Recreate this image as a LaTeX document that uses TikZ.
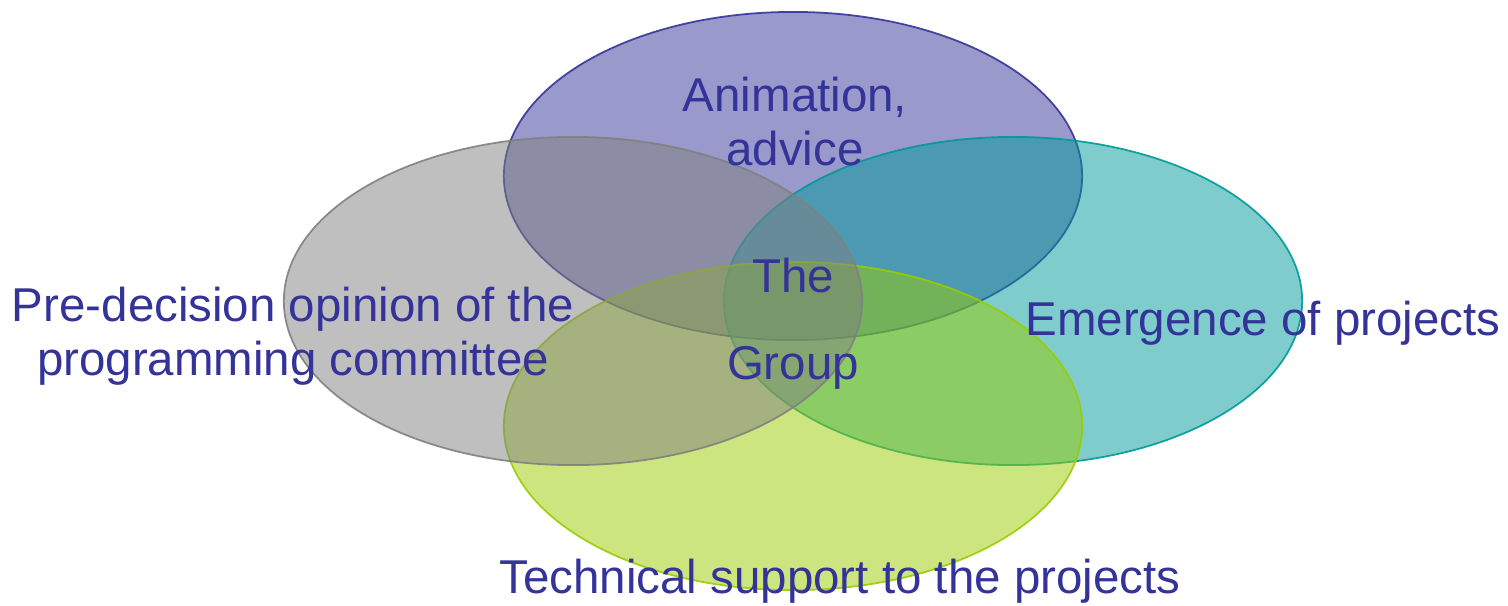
\documentclass[tikz,border=0pt]{standalone}
\usepackage{fontspec}
\setmainfont{Liberation Sans}
\usepackage{xcolor}
\usepackage{tikz}
\usetikzlibrary{
  positioning,
  backgrounds
}
\definecolor{grptext}{HTML}{333399}
\definecolor{clanim}{HTML}{333399}
\definecolor{clprog}{HTML}{808080}
\definecolor{clemer}{HTML}{009999}
\definecolor{cltech}{HTML}{99CC00}

\begin{document}
\begin{tikzpicture}[
  x=0.01cm, y=-0.01cm,
  blob/.style={draw=#1, fill=#1, fill opacity=0.5, draw opacity=0.9,
               line width=0.5pt},
  lbl/.style={font=\fontsize{13.5}{15.6}\selectfont, text=grptext,
              align=center, inner sep=0pt},
]
  \useasboundingbox (0,0) rectangle (1508,605);

  % Circles of the Venn
  \path[blob=clanim] (793,176) ellipse [x radius=2.89cm, y radius=1.64cm];
  \path[blob=clemer] (1013,301) ellipse [x radius=2.89cm, y radius=1.64cm];
  \path[blob=cltech] (793,426) ellipse [x radius=2.89cm, y radius=1.64cm];
  \path[blob=clprog] (573,301) ellipse [x radius=2.89cm, y radius=1.64cm];

  % Labels
  \node[lbl, anchor=north] (anim) at (795,76) {Animation,\\advice};
  \node[lbl, anchor=north] (prog) at (293,286) {Pre-decision opinion of the\\programming committee};
  \node[lbl, anchor=base]  (emer) at (1263,335) {Emergence of projects};
  \node[lbl, anchor=base]  (tech) at (840,593) {Technical support to the projects};
  \node[lbl, anchor=north] (grp)  at (793,257) {The\\[9.2pt]Group};
\end{tikzpicture}
\end{document}
